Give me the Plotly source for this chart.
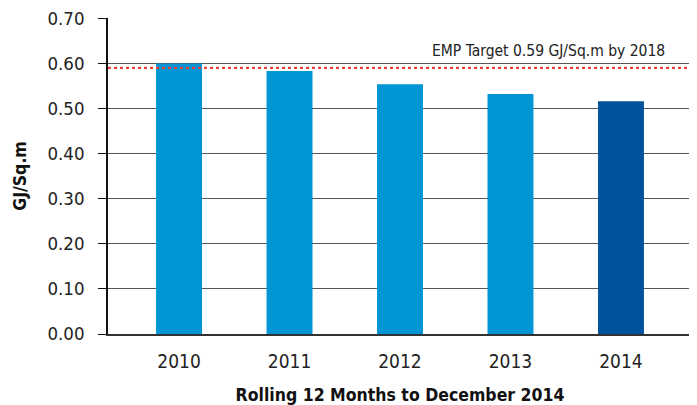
import plotly.graph_objects as go

years = ["2010", "2011", "2012", "2013", "2014"]
values = [0.600, 0.583, 0.554, 0.532, 0.516]
bar_colors = ["#0096D6", "#0096D6", "#0096D6", "#0096D6", "#00539B"]
target_value = 0.59
target_label = "EMP Target 0.59 GJ/Sq.m by 2018"
y_ticks = [0.0, 0.1, 0.2, 0.3, 0.4, 0.5, 0.6, 0.7]
y_tick_labels = ["0.00", "0.10", "0.20", "0.30", "0.40", "0.50", "0.60", "0.70"]

FONT = "Liberation Sans Narrow, DejaVu Sans Condensed, Arial Narrow, sans-serif"

fig = go.Figure()
fig.add_trace(go.Bar(
    x=list(range(len(years))),
    y=values,
    marker=dict(color=bar_colors, line=dict(width=0)),
    width=0.416,
    hoverinfo="skip",
))

fig.add_shape(type="line", xref="paper", yref="y", x0=0, x1=1,
              y0=target_value, y1=target_value,
              line=dict(color="#E8413C", width=2.2, dash="dot"))

fig.add_annotation(xref="paper", yref="y", x=0.957, y=target_value,
                   text=target_label, showarrow=False,
                   xanchor="right", yanchor="bottom", yshift=6,
                   font=dict(family=FONT, size=15.5, color="#222222"))

fig.update_layout(
    width=689, height=397,
    margin=dict(l=100, r=5, t=9.5, b=71, pad=0, autoexpand=False),
    plot_bgcolor="white", paper_bgcolor="white",
    showlegend=False,
    font=dict(family=FONT, color="#222222"),
    xaxis=dict(
        range=[-0.643, 4.643],
        tickmode="array", tickvals=list(range(len(years))), ticktext=years,
        showgrid=False, zeroline=False,
        showline=True, linecolor="#333333", linewidth=1.5,
        ticks="", ticklabelstandoff=9, automargin=False,
        tickfont=dict(family=FONT, size=19, color="#222222"),
        title=dict(text="<b>Rolling 12 Months to December 2014</b>",
                   font=dict(family=FONT, size=17.5, color="#111111"), standoff=18),
        fixedrange=True,
    ),
    yaxis=dict(
        range=[0, 0.7008],
        tickmode="array", tickvals=y_ticks, ticktext=y_tick_labels,
        showgrid=True, gridcolor="#555555", gridwidth=1.2,
        zeroline=False, automargin=False,
        showline=True, linecolor="#111111", linewidth=1.5,
        ticks="outside", ticklen=8, tickcolor="#111111", tickwidth=1.2,
        ticklabelstandoff=10, ticklabeloverflow="allow",
        tickfont=dict(family=FONT, size=18.5, color="#222222"),
        title=dict(text="<b>GJ/Sq.m</b>",
                   font=dict(family=FONT, size=17.5, color="#111111"), standoff=16),
        fixedrange=True,
    ),
)

fig.write_html("out.html")
